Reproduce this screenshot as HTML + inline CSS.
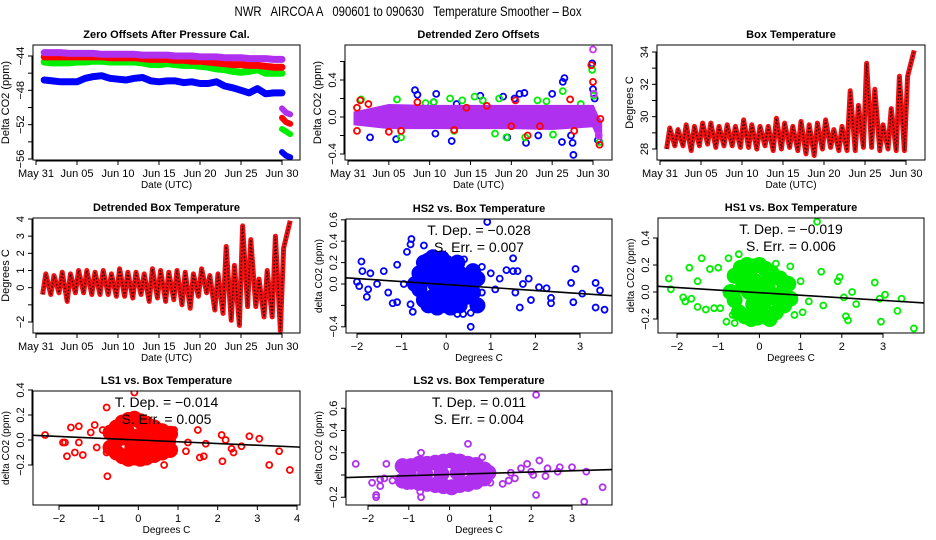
<!DOCTYPE html>
<html><head><meta charset="utf-8"><style>
html,body{margin:0;padding:0;background:#fff;}
svg{display:block;font-family:"Liberation Sans",sans-serif;}
#main-title{white-space:pre;}
</style></head><body>
<svg id="chart" width="936" height="540" viewBox="0 0 936 540" xmlns="http://www.w3.org/2000/svg">
<text id="main-title" x="408" y="16" text-anchor="middle" font-size="14" xml:space="preserve" textLength="347" lengthAdjust="spacingAndGlyphs">NWR   AIRCOA A   090601 to 090630   Temperature Smoother – Box</text>
</svg>
<script>
// ---------- data ----------
const dayTickVals = [0,5,10,15,20,25,30];
const dayTickLabels = ["May 31","Jun 05","Jun 10","Jun 15","Jun 20","Jun 25","Jun 30"];
const days = [1,2,3,4,5,6,7,8,9,10,11,12,13,14,15,16,17,18,19,20,21,22,23,24,25,26,27,28,29,30];
const zeroBlue = [-46.8,-46.9,-47,-47,-47,-46.6,-46.4,-46.3,-46.6,-46.7,-46.8,-46.6,-46.5,-46.9,-47,-46.9,-46.9,-47.1,-47,-47.2,-47.2,-47,-47.5,-47.7,-48.0,-48.3,-47.8,-48.4,-48.3,-48.3];
const zeroGreen = [-44.7,-44.8,-44.8,-44.8,-44.7,-44.7,-44.6,-44.6,-44.7,-44.7,-44.7,-44.7,-44.8,-45,-45,-44.9,-45,-45.1,-45.1,-45.2,-45.3,-45.5,-45.6,-45.8,-45.9,-45.8,-45.6,-46,-46,-46];
const zeroRed = [-44.1,-44.1,-44.1,-44.1,-44.1,-44.1,-44.1,-44.1,-44.2,-44.2,-44.2,-44.2,-44.3,-44.4,-44.4,-44.4,-44.5,-44.5,-44.6,-44.6,-44.7,-44.8,-44.9,-45,-45,-45.1,-45.1,-45.2,-45.3,-45.3];
const zeroPurple = [-43.6,-43.6,-43.6,-43.7,-43.7,-43.7,-43.7,-43.8,-43.8,-43.8,-43.8,-43.8,-43.9,-43.9,-43.9,-43.9,-44.0,-44.0,-44.0,-44.1,-44.1,-44.1,-44.2,-44.2,-44.2,-44.3,-44.3,-44.3,-44.4,-44.4];
const dropDays = [30.0,30.5,31.0];
const dropBlue = [-55.2,-55.6,-55.8];
const dropGreen = [-52.5,-52.8,-53.1];
const dropRed = [-51.2,-51.7,-51.9];
const dropPurple = [-50.1,-50.6,-50.8];

const bandDays = [0.8,5,10,15,20,25,30,30.5,31];
const bandHi = [0.05,0.13,0.12,0.12,0.12,0.12,0.12,0.02,-0.05];
const bandLo = [-0.08,-0.12,-0.12,-0.12,-0.12,-0.13,-0.1,-0.2,-0.25];
const detBlue = [[8.2,0.29],[8.5,0.24],[10.8,0.25],[10.5,0.16],[2.7,-0.22],[5.9,-0.24],[10.7,-0.18],[12.7,-0.26],[13.3,0.14],[16.2,0.23],[19,0.22],[19.5,-0.22],[20.4,0.2],[21,0.25],[21.6,0.26],[21.8,-0.28],[23.3,-0.2],[25,0.25],[26.3,0.38],[26.5,0.42],[26.2,-0.27],[27.3,-0.2],[27.5,-0.28],[27.6,-0.41],[29.9,0.58],[30.0,0.3],[30.2,0.2],[30.6,-0.25]];
const detGreen = [[1.6,0.19],[6,0.19],[6.5,-0.22],[9.5,0.15],[10.5,0.16],[12.5,0.2],[13.0,-0.15],[14,0.18],[15.5,0.22],[16.5,0.18],[18,-0.18],[18.5,0.2],[19.4,-0.22],[21.7,-0.22],[23.2,0.18],[24.3,0.17],[25.1,-0.19],[26.3,0.28],[28.5,0.14],[29.9,0.51],[30.1,0.23],[30.8,-0.27]];
const detRed = [[1.1,0.1],[1.1,-0.15],[1.5,0.18],[2.5,0.14],[5,-0.16],[6.5,-0.15],[8.5,0.16],[13,-0.14],[14.5,0.1],[17,0.12],[20.5,0.18],[20,-0.1],[22,-0.2],[23.5,-0.1],[27.7,-0.15],[27.2,0.19],[29.8,0.56],[30,0.38],[30.8,-0.3],[30.9,-0.02]];
const detPurple = [[30,0.73],[30.1,0.25],[30.7,-0.2]];

const tempMax = [29.3,29.2,29.5,29.4,29.6,29.6,29.4,29.5,29.4,29.8,29.5,29.4,29.4,29.9,29.6,29.4,29.7,29.5,29.6,29.8,29.2,29.4,31.6,30.7,33.3,31.7,29.5,30.5,32.5,32.5];
const tempMin = [28.0,28.2,28.2,27.9,28.2,28.3,28.1,28.2,28.2,28.1,28.1,28.0,28.2,27.9,28.0,28.1,27.9,27.7,27.6,28.0,28.1,27.9,27.9,27.9,28.1,28.1,27.9,28.0,27.9,27.9];
const dtMax = [0.8,0.7,0.9,0.8,1.0,1.0,0.9,1.0,0.8,1.1,0.9,0.9,0.8,1.1,1.0,0.9,1.0,0.9,0.8,1.1,0.7,0.8,2.4,1.3,3.6,2.8,0.5,1.0,3.0,2.3];
const dtMin = [-0.4,-0.4,-0.3,-0.8,-0.3,-0.3,-0.4,-0.4,-0.4,-0.5,-0.5,-0.6,-0.4,-0.8,-0.6,-0.8,-0.7,-1.0,-1.2,-0.5,-0.3,-1.3,-1.5,-1.9,-2.2,-1.1,-1.1,-1.7,-1.7,-2.5];
const tempEnd = 34.1;
const dtEnd = 3.9;

const hs2Out = [[-2,0.02],[-1.95,-0.02],[-1.9,0.21],[-1.88,0.12],[-1.78,-0.12],[-1.75,-0.05],[-1.7,0.1],[-1.55,0.0],[-1.4,0.12],[-1.3,-0.08],[-1.2,-0.18],[-1.1,0.18],[-1.1,-0.17],[-0.95,0.0],[-0.88,0.3],[-0.8,0.37],[-0.78,0.42],[-0.75,-0.26],[-0.8,-0.19],[-0.5,0.36],[0.55,-0.4],[0.92,0.58],[1.0,0.1],[1.1,-0.05],[1.2,0.05],[1.35,0.13],[1.5,0.24],[1.5,0.12],[1.6,0.12],[1.55,-0.08],[1.65,-0.22],[1.72,0.0],[1.85,0.05],[1.9,-0.15],[2.08,-0.03],[2.25,-0.04],[2.35,-0.13],[2.35,-0.18],[2.8,0.01],[2.85,-0.17],[2.9,0.14],[3.05,-0.09],[3.35,0.01],[3.35,-0.22],[3.45,-0.06],[3.55,-0.24],[0.25,-0.28],[0.38,-0.28],[0.55,-0.27],[0.75,-0.23],[0.8,-0.08],[0.8,0.16],[0.4,0.23]];
const hs2Core = [[-0.6,0.1],[-0.5,0.2],[-0.4,0.22],[-0.3,0.25],[-0.2,0.2],[-0.1,0.24],[0,0.2],[0.1,0.15],[0.2,0.12],[0.3,0.1],[0.5,0.08],[0.7,0.05],[-0.6,-0.05],[-0.5,-0.15],[-0.4,-0.2],[-0.3,-0.12],[-0.2,-0.22],[-0.1,-0.18],[0,-0.2],[0.1,-0.22],[0.2,-0.15],[0.3,-0.2],[0.45,-0.12],[0.6,-0.08],[0.7,-0.2],[-0.4,0.05],[-0.25,0.0],[-0.1,0.08],[0.05,0.0],[0.2,0.02],[0.35,-0.03],[0.5,-0.05],[-0.3,0.12],[0.1,-0.08],[-0.15,-0.08],[0.25,0.2],[0.6,0.12],[-0.7,0.0]];
const hs1Out = [[-2.2,0.1],[-2.15,0.02],[-1.85,-0.04],[-1.8,-0.07],[-1.7,0.18],[-1.65,-0.05],[-1.5,0.08],[-1.5,-0.11],[-1.4,0.25],[-1.3,-0.13],[-1.2,0.17],[-1.1,-0.12],[-1.0,0.18],[-0.95,-0.12],[-0.8,-0.22],[-0.75,0.25],[-0.65,-0.17],[-0.6,-0.23],[-0.5,0.28],[1.0,0.08],[1.2,-0.07],[1.4,0.52],[1.5,0.15],[1.55,-0.1],[1.9,0.08],[1.95,0.11],[2.05,-0.04],[2.1,-0.18],[2.15,-0.21],[2.25,0.0],[2.35,-0.09],[2.8,0.07],[2.92,-0.05],[2.95,-0.22],[3.05,-0.02],[3.35,-0.14],[3.45,-0.05],[3.75,-0.27],[0.4,0.21],[0.75,0.19],[0.85,-0.17],[1.05,-0.15]];
const hs1Core = [[-0.6,0.12],[-0.45,0.18],[-0.3,0.2],[-0.15,0.19],[0,0.2],[0.15,0.17],[0.3,0.14],[0.5,0.1],[0.7,0.06],[-0.6,-0.06],[-0.5,-0.15],[-0.35,-0.18],[-0.2,-0.2],[-0.05,-0.19],[0.1,-0.18],[0.25,-0.2],[0.4,-0.15],[0.6,-0.1],[0.75,-0.05],[-0.4,0.04],[-0.25,0.0],[-0.1,0.08],[0.05,0.0],[0.2,0.03],[0.35,-0.04],[0.5,-0.02],[-0.3,0.1],[0.1,-0.08],[-0.15,-0.09],[0.25,0.1],[-0.7,0.0],[0.6,0.02]];
const ls1Out = [[-2.35,0.04],[-1.9,-0.02],[-1.85,-0.02],[-1.8,-0.13],[-1.7,0.1],[-1.6,-0.1],[-1.5,0.11],[-1.5,-0.02],[-1.4,-0.12],[-1.2,0.06],[-1.1,0.12],[-1.05,-0.06],[-0.9,0.08],[-0.8,-0.1],[-0.8,0.26],[-0.78,-0.29],[-0.1,0.38],[1.5,0.08],[1.55,-0.14],[1.65,-0.13],[1.7,-0.03],[2.1,0.04],[2.12,-0.17],[2.2,0.0],[2.35,-0.07],[2.4,-0.1],[2.6,-0.05],[2.8,0.03],[3.05,0.01],[3.3,-0.2],[3.55,-0.09],[3.82,-0.24],[1.82,0.56],[0.65,-0.2],[1.2,-0.09],[1.25,-0.02],[0.9,0.08],[0.4,-0.15]];
const ls1Core = [[-0.7,0.06],[-0.55,0.1],[-0.4,0.14],[-0.25,0.16],[-0.1,0.17],[0.05,0.15],[0.2,0.13],[0.4,0.1],[0.6,0.07],[0.8,0.05],[-0.7,-0.06],[-0.55,-0.1],[-0.4,-0.13],[-0.25,-0.15],[-0.1,-0.14],[0.05,-0.15],[0.2,-0.14],[0.4,-0.12],[0.6,-0.1],[0.8,-0.08],[-0.4,0.02],[-0.2,0.0],[0.0,0.03],[0.2,-0.01],[0.4,0.0],[0.6,-0.02],[-0.3,0.08],[0.1,-0.07],[-0.15,-0.06],[0.3,0.07],[-0.55,0.0],[0.75,-0.01]];
const ls2Out = [[-2.3,0.1],[-1.9,-0.07],[-1.8,-0.18],[-1.8,-0.2],[-1.7,-0.04],[-1.7,-0.1],[-1.6,-0.03],[-1.55,0.1],[-1.4,-0.05],[-1.05,-0.1],[-0.7,0.2],[-0.7,0.14],[-0.7,-0.2],[-0.72,-0.15],[0.45,0.28],[0.8,0.16],[1.0,-0.07],[1.3,-0.08],[1.5,0.02],[1.45,-0.05],[1.6,-0.03],[1.75,0.06],[1.9,0.1],[2.0,0.03],[2.05,0.0],[2.12,0.72],[2.12,-0.18],[2.2,0.13],[2.35,-0.01],[2.4,0.06],[2.65,0.03],[2.7,0.07],[3.0,0.07],[3.3,-0.24],[3.35,0.03],[3.75,-0.11]];
const ls2Core = [[-1.15,0.08],[-1.15,-0.05],[-0.95,0.08],[-0.95,-0.06],[-0.75,0.1],[-0.75,-0.07],[-0.55,0.1],[-0.55,-0.08],[-0.35,0.11],[-0.35,-0.09],[-0.15,0.12],[-0.15,-0.1],[0.05,0.13],[0.05,-0.11],[0.25,0.12],[0.25,-0.09],[0.45,0.1],[0.45,-0.08],[0.65,0.09],[0.65,-0.06],[0.85,0.05],[0.85,-0.03],[-1.0,0.01],[-0.6,0.01],[-0.2,0.01],[0.2,0.02],[0.6,0.02],[0.95,0.02]];
const fitHS2 = [-0.028,-0.005];
const fitHS1 = [-0.019,-0.005];
const fitLS1 = [-0.014,0.0];
const fitLS2 = [0.011,0.005];

// ---------- helpers ----------
const NS="http://www.w3.org/2000/svg";
const svg=document.getElementById('chart');
function mk(tag,attrs,parent){const e=document.createElementNS(NS,tag);for(const k in attrs)e.setAttribute(k,attrs[k]);(parent||svg).appendChild(e);return e;}
function scale(v1,p1,v2,p2){return v=>p1+(v-v1)*(p2-p1)/(v2-v1);}

function panel(cfg){
  const g=mk('g',{});
  
  
  const b=cfg.box;
  const clipId='clip-'+cfg.name;
  const cp=mk('clipPath',{id:clipId},g);mk('rect',{x:b[0],y:b[1],width:b[2]-b[0],height:b[3]-b[1]},cp);
  const plot=mk('g',{'clip-path':'url(#'+clipId+')'},g);
  
  
  const box=mk('rect',{x:b[0],y:b[1],width:b[2]-b[0],height:b[3]-b[1],fill:'none',stroke:'#000','stroke-width':1},g);
  
  
  const t=mk('text',{x:(b[0]+b[2])/2,y:b[1]-7,'text-anchor':'middle','font-size':11,'font-weight':'bold'},g);
  t.textContent=cfg.title;
  
  
  const xa=mk('g',{},g);
  
  
  const xt=cfg.xTicks;
  mk('line',{x1:cfg.xs(xt[0]),x2:cfg.xs(xt[xt.length-1]),y1:b[3]+1,y2:b[3]+1,stroke:'#000'},xa);
  xt.forEach((v,i)=>{const x=cfg.xs(v);mk('line',{x1:x,x2:x,y1:b[3],y2:b[3]+5,stroke:'#000'},xa);
    const l=mk('text',{x:x,y:b[3]+17,'text-anchor':'middle','font-size':11},xa);l.textContent=cfg.xLabels[i];
    
    });
  const xl=mk('text',{x:(b[0]+b[2])/2,y:b[3]+28,'text-anchor':'middle','font-size':10},xa);xl.textContent=cfg.xTitle;
  
  
  const ya=mk('g',{},g);
  
  
  const yt=cfg.yTicks;
  mk('line',{x1:b[0]-1,x2:b[0]-1,y1:cfg.ys(yt[0]),y2:cfg.ys(yt[yt.length-1]),stroke:'#000'},ya);
  yt.forEach((v,i)=>{const y=cfg.ys(v);mk('line',{x1:b[0]-5,x2:b[0],y1:y,y2:y,stroke:'#000'},ya);
    if(cfg.yLabels[i]!==''){const l=mk('text',{x:b[0]-9,y:y,'text-anchor':'middle','font-size':11,transform:'rotate(-90 '+(b[0]-9)+' '+y+')'},ya);l.textContent=cfg.yLabels[i];
    
    }});
  const yx=b[0]-24,yy=(b[1]+b[3])/2;
  const yl=mk('text',{x:yx,y:yy,'text-anchor':'middle','font-size':cfg.yTitleSize||11,transform:'rotate(-90 '+yx+' '+yy+')'},ya);yl.textContent=cfg.yTitle;
  
  
  return plot;
}
function pts(xs,ys,X,Y){return X.map((v,i)=>xs(v).toFixed(1)+','+ys(Y[i]).toFixed(1)).join(' ');}

// ---------- panel 1 ----------
{
 const xs=scale(0,36,30,282), ys=scale(-44,56,-56,159);
 const p=panel({name:'zero-offsets-panel',box:[33,45,300,160],title:'Zero Offsets After Pressure Cal.',xs,ys,xTicks:dayTickVals,xLabels:dayTickLabels,xTitle:'Date (UTC)',
   yTicks:[-44,-46,-48,-50,-52,-54,-56],yLabels:['−44','','−48','','−52','','−56'],yTitle:'Delta CO2 (ppm)'});
 [['blue',zeroBlue,dropBlue,'#0000ff'],['green',zeroGreen,dropGreen,'#00ee00'],['red',zeroRed,dropRed,'#ff0000'],['purple',zeroPurple,dropPurple,'#b030f0']].forEach(s=>{
   const l=mk('polyline',{points:pts(xs,ys,days,s[1]),fill:'none',stroke:s[3],'stroke-width':7,'stroke-linejoin':'round','stroke-linecap':'round'},p);
   
   
   const d=mk('polyline',{points:pts(xs,ys,dropDays,s[2]),fill:'none',stroke:s[3],'stroke-width':6,'stroke-linecap':'round'},p);
   
   
 });
}
// ---------- panel 2 ----------
{
 const xs=scale(0,348,30,593), ys=scale(0,117,0.4,80);
 const p=panel({name:'detrended-zero-panel',box:[345,45,612,160],title:'Detrended Zero Offsets',xs,ys,xTicks:dayTickVals,xLabels:dayTickLabels,xTitle:'Date (UTC)',
   yTicks:[-0.4,-0.2,0,0.2,0.4,0.6],yLabels:['−0.4','','0.0','','0.4',''],yTitle:'Delta CO2 (ppm)'});
 const dot=(arr,c,nm)=>arr.forEach(q=>{const e=mk('circle',{cx:xs(q[0]),cy:ys(q[1]),r:3,fill:'none',stroke:c,'stroke-width':1.8},p);
   
   });
 dot(detBlue,'#0000ff','detrended-blue-point');
 dot(detGreen,'#00ee00','detrended-green-point');
 const revDays=bandDays.slice().reverse(), revLo=bandLo.slice().reverse();
 const band=mk('polygon',{points:pts(xs,ys,bandDays,bandHi)+' '+pts(xs,ys,revDays,revLo),fill:'#b030f0',stroke:'#b030f0','stroke-width':2},p);
 
 
 dot(detRed,'#ff0000','detrended-red-point');
 dot(detPurple,'#cc33ff','detrended-purple-point');
}
// ---------- panels 3 & 4 ----------
function tempPanel(name,title,box,xs,ys,yT,yL,yTitle,mx,mn,end){
 const p=panel({name,box,title,xs,ys,xTicks:dayTickVals,xLabels:dayTickLabels,xTitle:'Date (UTC)',yTicks:yT,yLabels:yL,yTitle});
 const X=[],Y=[];
 days.forEach((d,i)=>{X.push(d-0.2);Y.push(mn[i]);X.push(d+0.2);Y.push(mx[i]);});
 X.push(31);Y.push(end);
 const l=mk('polyline',{points:pts(xs,ys,X,Y),fill:'none',stroke:'#ee1111','stroke-width':5,'stroke-linejoin':'round'},p);
 
 
 const l2=mk('polyline',{points:pts(xs,ys,X,Y),fill:'none',stroke:'#300','stroke-width':1.5,'stroke-dasharray':'1.5 2'},p);
 
 
}
tempPanel('box-temperature-panel','Box Temperature',[657,45,925,160],scale(0,660,30,906),scale(28,149,34,52),[28,29,30,31,32,33,34],['28','','30','','32','','34'],'Degrees C',tempMax,tempMin,tempEnd);
tempPanel('detrended-temperature-panel','Detrended Box Temperature',[33,218,300,333],scale(0,36,30,282),scale(-2,322,4,219),[-2,-1,0,1,2,3,4],['−2','','0','1','2','3','4'],'Degrees C',dtMax,dtMin,dtEnd);
// ---------- scatter panels ----------
function scatterPanel(name,title,box,xs,ys,xT,yT,yL,color,out,core,fit,dep,err,xr){
 const p=panel({name,box,title,xs,ys,xTicks:xT,xLabels:xT.map(v=>v<0?'−'+(-v):''+v),xTitle:'Degrees C',yTicks:yT,yLabels:yL,yTitle:'delta CO2 (ppm)',yTitleSize:10});
 core.forEach(q=>{const e=mk('circle',{cx:xs(q[0]),cy:ys(q[1]),r:8,fill:color},p);
   
   });
 out.forEach(q=>{const e=mk('circle',{cx:xs(q[0]),cy:ys(q[1]),r:3,fill:'none',stroke:color,'stroke-width':1.8},p);
   
   });
 const fl=mk('line',{x1:xs(xr[0]),y1:ys(fit[0]*xr[0]+fit[1]),x2:xs(xr[1]),y2:ys(fit[0]*xr[1]+fit[1]),stroke:'#000','stroke-width':1.6},p);
 
 
 const cx=(box[0]+box[2])/2;
 const t1=mk('text',{x:cx,y:box[1]+16,'text-anchor':'middle','font-size':14});t1.textContent='T. Dep. =  '+dep;
 
 
 const t2=mk('text',{x:cx,y:box[1]+33,'text-anchor':'middle','font-size':14});t2.textContent='S. Err. =  '+err;
 
 
}
scatterPanel('hs2-scatter-panel','HS2 vs. Box Temperature',[346,219,612,333],scale(-2,357,3,580),scale(0,284,0.2,262.6),[-2,-1,0,1,2,3],[-0.4,-0.2,0,0.2,0.4,0.6],['−0.4','','0.0','0.2','0.4','0.6'],'#0000ff',hs2Out,hs2Core,fitHS2,'−0.028','0.007',[-2.5,3.8]);
scatterPanel('hs1-scatter-panel','HS1 vs. Box Temperature',[658,218,924,333],scale(-2,677,3,883),scale(0,292,0.2,265),[-2,-1,0,1,2,3],[-0.2,0,0.2,0.4],['−0.2','0.0','0.2','0.4'],'#00ee00',hs1Out,hs1Core,fitHS1,'−0.019','0.006',[-2.6,4.0]);
scatterPanel('ls1-scatter-panel','LS1 vs. Box Temperature',[33,391,300,505],scale(-2,59,4,297),scale(0,440,0.2,415),[-2,-1,0,1,2,3,4],[-0.2,0,0.2,0.4],['−0.2','0.0','0.2','0.4'],'#ff0000',ls1Out,ls1Core,fitLS1,'−0.014','0.005',[-2.7,4.2]);
scatterPanel('ls2-scatter-panel','LS2 vs. Box Temperature',[346,391,612,505],scale(-2,368,3,572),scale(0,475,0.2,452.75),[-2,-1,0,1,2,3],[-0.2,0,0.2,0.4,0.6],['−0.2','','0.2','0.4','0.6'],'#b030f0',ls2Out,ls2Core,fitLS2,'0.011','0.004',[-2.6,4.0]);
</script>
</body></html>
